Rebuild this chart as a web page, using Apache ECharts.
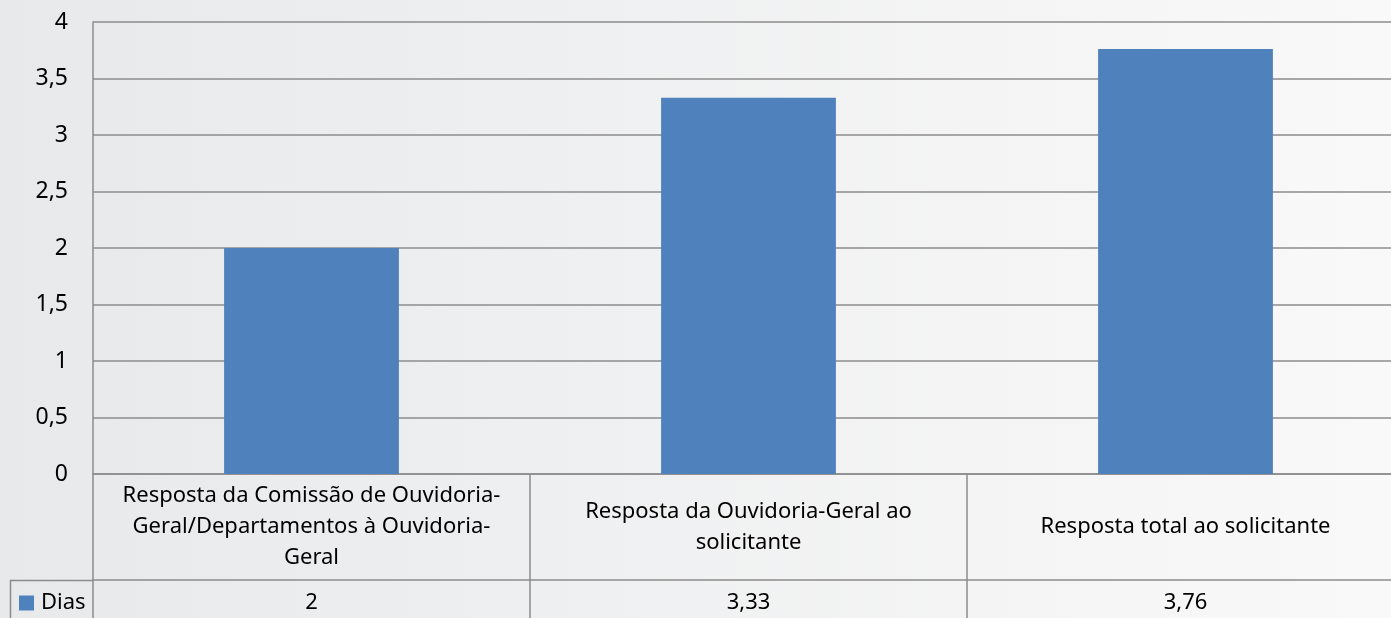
<!DOCTYPE html>
<html>
<head>
<meta charset="utf-8">
<script src="https://cdn.jsdelivr.net/npm/echarts@6/dist/echarts.min.js"></script>
<style>
    html, body { margin: 0; padding: 0; }
    #main { width: 1391px; height: 618px; }
</style>
</head>
<body>
<div id="main"></div>
<script>
// categorias (com quebra de linha como no original)
var categories = [
    'Resposta da Comissão de Ouvidoria-\nGeral/Departamentos à Ouvidoria-\nGeral',
    'Resposta da Ouvidoria-Geral ao\nsolicitante',
    'Resposta total ao solicitante'
];
var seriesName = 'Dias';
var dias = [2, 3.33, 3.76];
var yTicks = [0, 0.5, 1, 1.5, 2, 2.5, 3, 3.5, 4];

var gridColor = '#8c8c8c';
var fontFamily = '"Noto Sans", sans-serif';

function virgula(v) {
    return String(v).replace('.', ',');
}

var myChart = echarts.init(document.getElementById('main'));

var option = {
    backgroundColor: {
        type: 'linear', x: 0, y: 0, x2: 1, y2: 0,
        colorStops: [
            { offset: 0, color: '#e8e9eb' },
            { offset: 1, color: '#f9f9f9' }
        ]
    },
    textStyle: { fontFamily: fontFamily },
    grid: {
        left: 93,
        width: 1311,
        top: 22,
        height: 452,
        containLabel: false,
        outerBoundsMode: 'none'
    },
    legend: {
        data: [seriesName],
        left: 15,
        top: 590,
        padding: [2, 4],
        itemWidth: 15,
        itemHeight: 15,
        icon: 'rect',
        textStyle: { fontSize: 22, color: '#000', fontFamily: fontFamily, padding: [0, 0, 0, 2] }
    },
    xAxis: [
        {
            type: 'category',
            data: categories,
            axisLine: { lineStyle: { color: gridColor, width: 1.5 } },
            axisTick: { show: true, length: 144, lineStyle: { color: gridColor, width: 1.5 } },
            axisLabel: {
                interval: 0,
                margin: 53,
                verticalAlign: 'middle',
                align: 'center',
                fontSize: 22,
                lineHeight: 31,
                color: '#000',
                fontFamily: fontFamily
            }
        },
        {
            type: 'category',
            position: 'bottom',
            offset: 106,
            data: dias.map(virgula),
            axisLine: { show: true, lineStyle: { color: gridColor, width: 1.5 } },
            axisTick: { show: false },
            axisLabel: {
                interval: 0,
                margin: 23,
                verticalAlign: 'middle',
                fontSize: 22,
                color: '#000',
                fontFamily: fontFamily
            }
        }
    ],
    yAxis: {
        type: 'value',
        min: yTicks[0],
        max: yTicks[yTicks.length - 1],
        interval: 0.5,
        axisLine: { show: true, lineStyle: { color: gridColor, width: 1.5 } },
        axisTick: { show: false },
        splitLine: { lineStyle: { color: gridColor, width: 1.5 } },
        axisLabel: {
            margin: 25,
            fontSize: 23,
            color: '#000',
            fontFamily: fontFamily,
            formatter: function (v) { return virgula(v); }
        }
    },
    graphic: [
        {
            // borda da célula da legenda (topo e lado esquerdo)
            type: 'polyline',
            shape: { points: [[93, 580.5], [10.5, 580.5], [10.5, 640]] },
            style: { fill: null, stroke: gridColor, lineWidth: 1.5 },
            silent: true
        }
    ],
    series: [
        {
            name: seriesName,
            type: 'bar',
            xAxisIndex: 0,
            barWidth: '40%',
            itemStyle: { color: '#4f81bd' },
            data: dias
        }
    ]
};
myChart.setOption(option);
</script>
</body>
</html>
